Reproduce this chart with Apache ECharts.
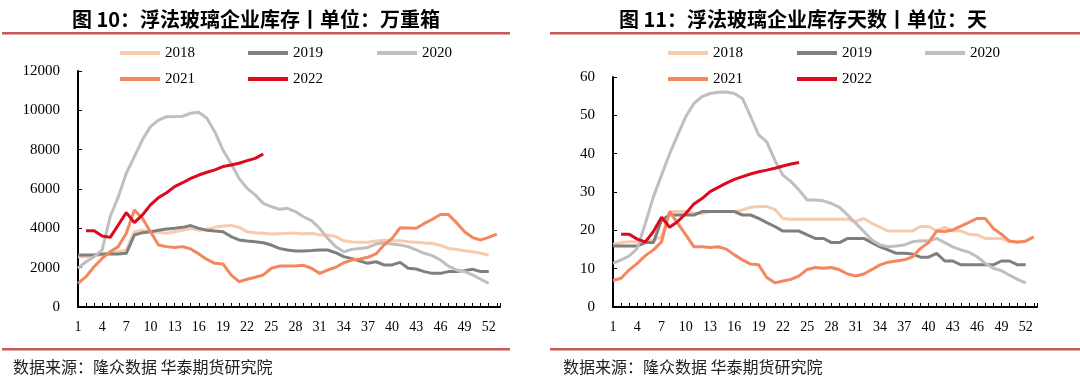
<!DOCTYPE html>
<html><head><meta charset="utf-8">
<script src="https://cdn.jsdelivr.net/npm/echarts@6/dist/echarts.min.js"></script>
<style>html,body{margin:0;padding:0;background:#fff}#c{width:1080px;height:382px}</style>
</head><body><div id="c"></div>
<script>
// ---- data ----
const weeks = [1,2,3,4,5,6,7,8,9,10,11,12,13,14,15,16,17,18,19,20,21,22,23,24,25,26,27,28,29,30,31,32,33,34,35,36,37,38,39,40,41,42,43,44,45,46,47,48,49,50,51,52,53];
const tickLabels = [1,4,7,10,13,16,19,22,25,28,31,34,37,40,43,46,49,52];
const seriesNames = ['2018','2019','2020','2021','2022'];

// 库存 (万重箱)
const inv2018 = [2560,2560,2600,2640,2730,2800,2900,3830,3900,3830,3800,3750,3830,3900,4000,3900,3950,4050,4120,4150,4050,3830,3780,3750,3710,3730,3750,3750,3730,3750,3660,3660,3580,3370,3300,3290,3290,3360,3390,3370,3370,3320,3290,3250,3230,3140,2980,2930,2860,2810,2730,2630,null];
const inv2019 = [2640,2640,2660,2700,2700,2700,2730,3660,3780,3830,3900,3970,4000,4050,4140,4000,3900,3860,3830,3580,3410,3360,3320,3270,3150,2980,2900,2850,2850,2870,2900,2900,2760,2560,2460,2340,2220,2300,2140,2140,2270,1970,1930,1800,1710,1710,1800,1800,1850,1920,1800,1800,null];
const inv2020 = [1970,2300,2560,2900,4600,5600,6800,7650,8500,9170,9500,9680,9680,9700,9850,9900,9600,8900,7980,7300,6540,6030,5700,5270,5100,4970,5020,4850,4590,4390,4000,3490,3070,2810,2930,2980,3030,3200,3270,3200,3150,3070,2900,2730,2610,2390,2080,1880,1800,1630,1410,1200,null];
const inv2021 = [1200,1540,2050,2470,2810,3070,3750,4930,4510,3830,3150,3070,3030,3070,2950,2700,2420,2220,2190,1630,1290,1410,1510,1630,1970,2080,2080,2080,2120,1970,1710,1880,2020,2250,2390,2440,2530,2700,3150,3490,4030,4020,4000,4250,4460,4700,4700,4290,3830,3530,3410,3540,3710];
const inv2022 = [null,3880,3880,3610,3540,4170,4800,4290,4680,5190,5560,5810,6120,6320,6540,6710,6850,6970,7140,7220,7310,7440,7560,7780];

// 库存天数 (天)
const day2018 = [16.3,16.8,17,17,17,17.5,18.3,24.9,24.9,24.9,24.4,24.4,24.9,24.9,24.9,24.9,25.3,26,26.2,26.2,25.5,23.1,22.9,22.9,22.9,22.9,22.9,22.9,22.9,22.9,22.3,23.1,21.8,20.8,19.8,19.8,19.8,19.8,21,21,19.9,20.8,19.9,19.8,19,18.8,17.9,17.9,17.9,17,17,17,null];
const day2019 = [15.9,15.9,15.9,15.9,16.8,16.8,22.7,24,24,24,24,24.9,24.9,24.9,24.9,24.9,24,24,23.1,22,21,19.8,19.8,19.8,18.8,17.9,17.9,16.8,16.8,17.9,17.9,17.9,16.8,15.7,14.9,14,14,13.8,13,13,14,12,12,11,11,11,11,11,12,12,11,11,null];
const day2020 = [11.4,12.3,13.3,15.3,21.8,28.8,34.4,40,44.9,49.7,53.1,54.9,55.7,56,56.1,55.7,54.4,49.7,44.9,43.1,38.3,34.4,32.7,30.5,27.9,27.9,27.7,27,26,24,21.8,19.7,17.5,16.2,15.7,15.9,16.2,17,17.3,17.2,17.9,16.8,15.7,14.9,14.3,13.1,11.4,10.1,9.5,8.3,7.2,6.3,null];
const day2021 = [6.9,7.5,9.7,11.4,13.4,14.9,17,24.9,21.8,18.8,15.7,15.7,15.5,15.7,15.1,13.6,12.3,11.2,11,7.7,6.3,6.8,7.2,8.1,9.8,10.3,10.1,10.3,9.7,8.6,8.1,8.6,9.8,11,11.7,12,12.3,13.1,15.3,16.8,19.8,19.7,20.1,21.1,22.1,23.1,23.1,20.5,19,17.2,16.9,17.2,18.3];
const day2022 = [null,19,19,17.7,17,19.7,23.4,20.8,22.3,24.4,26.9,28.3,30.1,31.2,32.3,33.3,34,34.7,35.3,35.7,36.2,36.8,37.3,37.7];

const leftTitle = '图 10：浮法玻璃企业库存丨单位：万重箱';
const rightTitle = '图 11：浮法玻璃企业库存天数丨单位：天';
const sourceText = '数据来源：隆众数据 华泰期货研究院';

// ---- styling ----
const colors = ['#F8CBAD','#7F7F7F','#BFBFBF','#F4875E','#DC0A1E'];
const serif = '"Liberation Serif","Times New Roman",serif';
const cjk = '"Noto Sans CJK SC","Noto Sans",sans-serif';

const chart = echarts.init(document.getElementById('c'), null, {renderer:'canvas'});

function pairs(arr){
  const out = [];
  arr.forEach((v,i)=>{ if(v!=null) out.push([weeks[i], v]); });
  return out;
}

const grids = [
  {left:78, top:71, width:422, height:236},
  {left:613, top:77, width:424, height:230}
];

function xAxis(gi){
  return {
    type:'value', gridIndex:gi, min:1, max:53.4,
    axisLine:{show:true, onZero:false, lineStyle:{color:'#000', width:2}},
    axisTick:{show:true, inside:true, length:4, customValues:weeks.concat([53.4]), lineStyle:{color:'#000', width:1}},
    axisLabel:{show:true, customValues:tickLabels, color:'#000', fontFamily:serif, fontSize:14, margin:13,
      formatter:v=>String(v)},
    splitLine:{show:false}
  };
}
function yAxis(gi, max, interval){
  return {
    type:'value', gridIndex:gi, min:0, max:max, interval:interval,
    axisLine:{show:true, lineStyle:{color:'#000', width:2}},
    axisTick:{show:true, inside:true, length:4, lineStyle:{color:'#000'}},
    axisLabel:{color:'#000', fontFamily:serif, fontSize:15, margin:18, formatter:v=>String(v)},
    splitLine:{show:false}
  };
}

const leftData = [inv2018, inv2019, inv2020, inv2021, inv2022];
const rightData = [day2018, day2019, day2020, day2021, day2022];
const series = [];
[leftData, rightData].forEach((set, gi)=>{
  set.forEach((arr, k)=>{
    series.push({
      name: seriesNames[k], type:'line', xAxisIndex:gi, yAxisIndex:gi,
      data: pairs(arr), showSymbol:false, symbol:'none',
      color: colors[k],
      lineStyle:{width:3, color:colors[k]},
      itemStyle:{color:colors[k]},
      z: 2 + k, animation:false
    });
  });
});

const legendPos = [
  [120,53],[248,53],[377,53],[120,79],[248,79],
  [668,53],[797,53],[925,53],[668,79],[797,79]
];
const legends = legendPos.map((p,i)=>({
  left:p[0], top:p[1]-8, padding:0,
  data:[seriesNames[i%5]],
  icon:'rect', itemWidth:40, itemHeight:4, itemGap:0,
  selectedMode:false,
  textStyle:{fontFamily:serif, fontSize:15, color:'#000', lineHeight:16}
}));

const lineColor = '#C55A5A';
const graphic = [
  {type:'text', x:256, y:19, style:{text:leftTitle, font:'bold 20px '+cjk, fill:'#000', textAlign:'center', textVerticalAlign:'middle'}},
  {type:'text', x:803, y:19, style:{text:rightTitle, font:'bold 20px '+cjk, fill:'#000', textAlign:'center', textVerticalAlign:'middle'}},
  {type:'rect', shape:{x:2, y:32, width:508, height:2.5}, style:{fill:lineColor}},
  {type:'rect', shape:{x:550, y:32, width:530, height:2.5}, style:{fill:lineColor}},
  {type:'rect', shape:{x:2, y:348, width:508, height:2.5}, style:{fill:lineColor}},
  {type:'rect', shape:{x:550, y:348, width:530, height:2.5}, style:{fill:lineColor}},
  {type:'text', x:13, y:367, style:{text:sourceText, font:'16px '+cjk, fill:'#222', textAlign:'left', textVerticalAlign:'middle'}},
  {type:'text', x:563, y:367, style:{text:sourceText, font:'16px '+cjk, fill:'#222', textAlign:'left', textVerticalAlign:'middle'}}
];

chart.setOption({
  animation:false,
  backgroundColor:'#fff',
  grid: grids,
  xAxis:[xAxis(0), xAxis(1)],
  yAxis:[yAxis(0, 12000, 2000), yAxis(1, 60, 10)],
  legend: legends,
  series: series,
  graphic: graphic
});
</script></body></html>
